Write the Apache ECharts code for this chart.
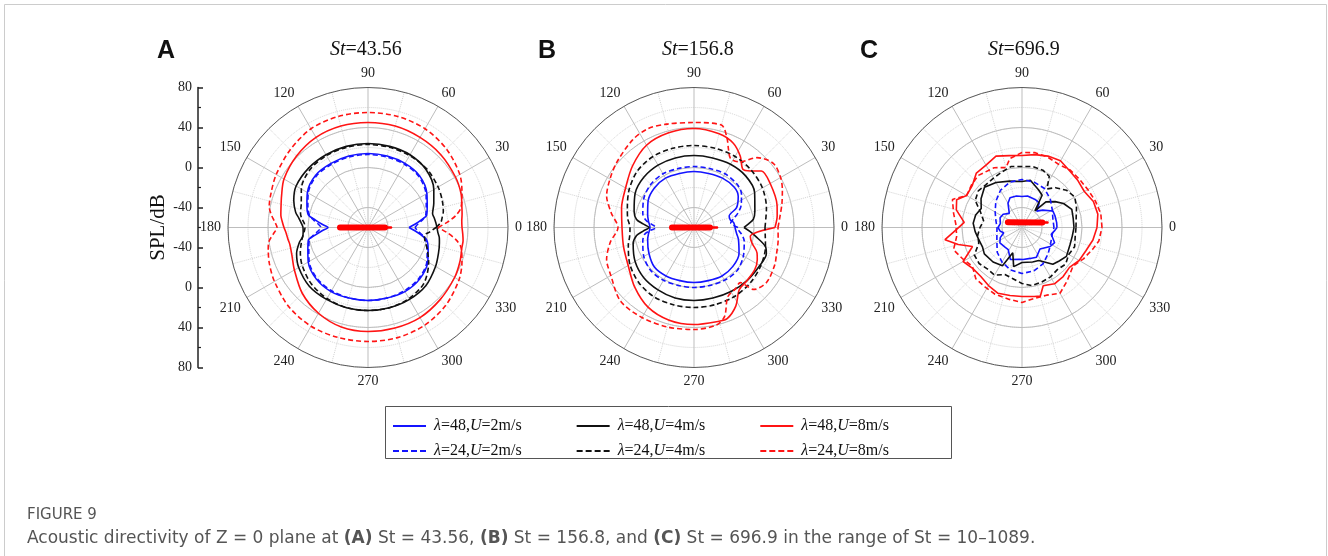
<!DOCTYPE html>
<html><head><meta charset="utf-8">
<script src="https://cdn.jsdelivr.net/npm/echarts@6/dist/echarts.min.js"></script>
<style>html,body{margin:0;padding:0;background:#fff}#c{width:1328px;height:556px}</style>
</head><body><div id="c"></div>
<script>
// ---------- DATA: [angle (deg), SPL (dB)] ----------
const SERIES_NAMES = ['λ=48,U=2m/s','λ=48,U=4m/s','λ=48,U=8m/s','λ=24,U=2m/s','λ=24,U=4m/s','λ=24,U=8m/s'];
const PANEL_LABELS = ['A','B','C'];
const PANEL_ST = ['43.56','156.8','696.9'];
const ANGLE_TICKS = [0,30,60,90,120,150,180,210,240,270,300,330];
const RADIAL_TICK_LABELS = ['80','40','0','-40','-40','0','40','80'];

// Panel A (St = 43.56)
const A_L48_U2 = [[0,-19],[4,-13],[8,-6.5],[12,0],[20,3],[30,8],[45,13],[60,14],[75,14],[90,14],[105,14],[120,14],[135,14],[150,10],[160,5],[168,1],[172,-7],[176,-14],[180,-20],[184,-14],[188,-7],[192,1],[200,4],[210,9],[225,13],[240,14],[255,13],[270,13],[285,13],[300,14],[315,13],[330,9],[340,4],[348,0],[352,-6.5],[356,-13]];
const A_L24_U2 = [[0,-13],[4,-10],[8,-5],[12,-1],[20,2],[30,7],[45,12],[60,13],[75,13],[90,13],[105,13],[120,13],[135,13],[150,9],[160,4],[168,0],[172,-5],[176,-10],[180,-13],[184,-10],[188,-5],[192,0],[200,3],[210,8],[225,12],[240,13],[255,13],[270,13],[285,13],[300,13],[315,12],[330,8],[340,3],[348,-1],[352,-5],[356,-10]];
const A_L48_U4 = [[0,9],[4,8],[8,7],[12,6],[20,10],[30,16],[45,22],[60,24],[75,24],[90,24],[105,24],[120,24],[135,24],[150,23],[160,19],[168,14],[172,10],[176,7],[180,5],[184,5],[188,6],[192,10],[200,16],[210,20],[225,23],[240,23],[255,23],[270,23],[285,23],[300,23],[315,22],[330,18],[340,15],[348,13],[352,12],[356,10]];
const A_L24_U4 = [[0,8],[4,13],[8,15],[12,17],[20,19],[30,21],[45,23],[60,23],[75,23],[90,23],[105,23],[120,23],[135,22],[150,17],[160,11],[168,9],[172,7],[176,4],[180,3],[184,4],[188,6],[192,8],[200,12],[210,16],[225,20],[240,22],[255,23],[270,23],[285,23],[300,22],[315,19],[330,10],[340,3],[348,-2],[352,-3],[356,2]];
const A_L48_U8 = [[0,34],[4,34],[8,35],[12,36],[20,39],[30,41],[45,43],[60,44],[75,45],[90,45],[105,45],[120,44],[135,41],[150,37],[160,32],[168,29],[172,28],[176,26],[180,24],[184,22],[188,21],[192,20],[200,21],[210,25],[225,33],[240,39],[255,43],[270,44],[285,44],[300,44],[315,42],[330,40],[340,38],[348,36],[352,36],[356,35]];
const A_L24_U8 = [[0,10],[4,20],[8,29],[12,35],[20,40],[30,46],[45,51],[60,54],[75,55],[90,55],[105,55],[120,54],[135,50],[150,46],[160,43],[168,41],[172,38],[176,34],[180,31],[184,35],[188,40],[192,42],[200,45],[210,48],[225,52],[240,54],[255,54],[270,54],[285,54],[300,53],[315,50],[330,45],[340,40],[348,35],[352,29],[356,20]];

// Panel B (St = 156.8)
const B_L48_U2 = [[0,-19],[7,-20],[12,-23],[18,-23],[25,-13],[35,-6],[45,-3],[60,-3],[75,-4],[90,-4],[105,-4],[120,-3],[135,-4],[150,-7],[165,-12],[172,-14],[180,-16],[188,-14],[195,-12],[210,-8],[225,-4],[240,-4],[255,-5],[270,-5],[285,-5],[300,-4],[315,-5],[330,-8],[345,-14],[352,-17]];
const B_L24_U2 = [[0,-16],[7,-23],[12,-20],[18,-14],[25,-8],[35,-2],[45,1],[60,2],[75,1],[90,1],[105,1],[120,2],[135,1],[150,-2],[165,-7],[172,-12],[176,-18],[180,-22],[184,-16],[188,-10],[195,-7],[210,-2],[225,1],[240,1],[255,0],[270,0],[285,0],[300,1],[315,1],[330,-3],[345,-8],[352,-12],[356,-15]];
const B_L48_U4 = [[0,-10],[4,-5],[8,0],[15,3],[30,10],[45,13],[60,13],[75,12],[90,12],[105,12],[120,12],[135,11],[150,8],[165,2],[172,-2],[176,-9],[180,-15],[184,-9],[188,-2],[195,3],[210,8],[225,11],[240,12],[255,13],[270,13],[285,13],[300,14],[315,15],[330,16],[340,17],[345,14],[352,2],[356,-4]];
const B_L24_U4 = [[0,11],[15,15],[30,19],[45,21],[60,22],[75,22],[90,22],[105,22],[120,22],[135,20],[150,15],[165,9],[172,7],[180,4],[188,5],[195,8],[210,14],[225,18],[240,20],[255,20],[270,20],[285,20],[300,20],[315,19],[330,17],[345,14],[352,12]];
const B_L48_U8 = [[0,21],[8,24],[15,26],[30,28],[40,28],[45,20],[50,16],[57,25],[65,33],[75,37],[90,39],[105,38],[120,35],[135,27],[150,19],[165,15],[180,12],[195,13],[210,16],[225,24],[240,32],[255,36],[270,37],[285,37],[290,37],[298,29],[306,17],[315,15],[325,14],[333,11],[338,8],[345,0],[351,-3]];
const B_L24_U8 = [[0,24],[8,27],[15,31],[23,36],[30,40],[39,42],[48,34],[55,20],[62,18],[66,25],[70,36],[75,46],[90,45],[105,47],[115,49],[125,47],[140,41],[150,37],[160,33],[170,24],[180,16],[190,25],[200,33],[210,36],[225,44],[240,44],[255,43],[270,42],[283,40],[289,34],[296,17],[304,14],[310,12],[314,26],[323,31],[335,29],[341,27],[352,25]];

// Panel C (St = 696.9)
const C_L48_U2 = [[0,-25],[8,-25],[20,-25],[28,-25],[40,-33],[48,-38],[55,-30],[65,-29],[80,-28],[90,-29],[100,-28],[112,-28],[120,-32],[132,-41],[145,-37],[156,-36],[170,-38],[180,-36],[190,-38],[196,-41],[205,-36],[215,-33],[230,-34],[238,-34],[250,-26],[265,-28],[272,-28],[285,-28],[296,-27],[310,-32],[326,-26],[335,-24],[347,-30],[355,-27]];
const C_L24_U2 = [[0,-28],[15,-28],[30,-25],[45,-20],[60,-15],[75,-13],[90,-12],[105,-13],[120,-17],[135,-23],[150,-29],[165,-33],[180,-35],[195,-34],[210,-31],[225,-25],[240,-20],[255,-16],[270,-14],[285,-15],[300,-18],[315,-23],[330,-27],[345,-29]];
const C_L48_U4 = [[0,-8],[10,-8],[20,-7],[30,-12],[38,-18],[47,-25],[52,-39],[58,-22],[66,-19],[80,-12],[90,-14],[105,-12],[120,-8],[133,-5],[145,-10],[155,-15],[165,-12],[175,-11],[185,-13],[195,-15],[206,-16],[215,-14],[230,-15],[243,-17],[250,-33],[258,-20],[270,-25],[287,-24],[297,-23],[310,-12],[318,-10],[327,-7],[340,-9],[350,-9]];
const C_L24_U4 = [[0,-6],[10,-5],[20,-2],[30,1],[40,-2],[50,-8],[57,-14],[62,-2],[70,1],[80,2],[90,1],[100,2],[110,-1],[120,-3],[130,-4],[140,-3],[150,-6],[160,-16],[170,-21],[180,-18],[190,-15],[200,-14],[210,-5],[220,-4],[230,-6],[240,-5],[250,-10],[260,-8],[270,-4],[280,-1],[290,-2],[300,-3],[310,-5],[320,-3],[330,-6],[340,-4],[350,-6]];
const C_L48_U8 = [[0,15],[10,17],[20,16],[30,12],[40,13],[50,14],[60,17],[70,16],[80,14],[90,12],[100,13],[110,16],[120,12],[130,11],[140,5],[150,4],[157,11],[165,8],[175,-2],[182,6],[189,18],[195,6],[201,-7],[210,8],[220,4],[230,4],[240,7],[250,10],[260,9],[270,9],[280,10],[285,11],[290,2],[300,5],[310,4],[320,2],[330,6],[340,8],[350,12]];
const C_L24_U8 = [[0,20],[10,20],[20,18],[30,16],[40,15],[50,15],[60,13],[70,15],[80,16],[90,15],[100,10],[105,2],[115,6],[130,8],[140,6],[150,4],[158,15],[168,10],[178,6],[188,6],[198,12],[208,7],[218,3],[228,9],[238,10],[248,12],[260,13],[270,15],[280,12],[290,12],[300,16],[310,10],[323,4],[333,9],[343,14],[350,18]];

// Vehicle hull drawn at the centre of each panel: [angle, dB]
const HULL_A = [[180,-32],[0,-43]], NOSE_A = [[0,-43],[0,-37]];
const HULL_B = [[180,-38],[0,-44]], NOSE_B = [[0,-44],[0,-37]];
const HULL_C = [[160,-45],[14,-39]], NOSE_C = [[14,-39],[11,-34]];

// ---------- STYLE / LAYOUT ----------
const PANEL_DATA = [
  [A_L48_U2, A_L48_U4, A_L48_U8, A_L24_U2, A_L24_U4, A_L24_U8],
  [B_L48_U2, B_L48_U4, B_L48_U8, B_L24_U2, B_L24_U4, B_L24_U8],
  [C_L48_U2, C_L48_U4, C_L48_U8, C_L24_U2, C_L24_U4, C_L24_U8]
];
const HULLS = [[HULL_A, NOSE_A],[HULL_B, NOSE_B],[HULL_C, NOSE_C]];
const CX = [368, 694, 1022], CY = 227.5, R = 140;
const SMOOTH = [0.3, 0.3, false];
const COLORS = ['#1414ff','#111111','#ff1414','#1414ff','#111111','#ff1414'];
const DASHED = [false,false,false,true,true,true];
const SERIF = 'Liberation Serif';
const ICON_SOLID = 'path://M0,0h33v2h-33z';
const ICON_DASH = 'path://M0,0h6v2h-6zM9,0h6v2h-6zM18,0h6v2h-6zM27,0h6v2h-6z';

const polar = [], angleAxis = [], radiusAxis = [], series = [], title = [];
for (let p = 0; p < 3; p++) {
  polar.push({center:[CX[p], CY], radius: R});
  polar.push({center:[CX[p], CY], radius: [R*20/140, R*100/140]});
  angleAxis.push({polarIndex: 2*p, type:'value', min:0, max:360, interval:30, startAngle:0, clockwise:false,
    axisLine:{show:true, lineStyle:{color:'#5a5a5a', width:1}}, axisTick:{show:false},
    axisLabel:{margin:7, fontFamily:SERIF, fontSize:14, color:'#222', formatter: v => ANGLE_TICKS.includes(v) ? String(v) : ''},
    splitLine:{show:true, lineStyle:{color:'#bdbdbd', width:1}},
    minorTick:{show:false, splitNumber:2},
    minorSplitLine:{show:true, lineStyle:{color:'#d4d4d4', type:'dotted', width:1}}, z:0});
  angleAxis.push({polarIndex: 2*p+1, type:'value', min:0, max:360, startAngle:0, clockwise:false,
    axisLine:{show:false}, axisTick:{show:false}, axisLabel:{show:false}, splitLine:{show:false}});
  radiusAxis.push({polarIndex: 2*p, type:'value', min:-60, max:80, interval:20,
    axisLine:{show:false}, axisTick:{show:false}, axisLabel:{show:false},
    splitLine:{show:true, lineStyle:{color:'#d4d4d4', type:'dotted', width:1}}, z:0});
  radiusAxis.push({polarIndex: 2*p+1, type:'value', min:-40, max:40, interval:40,
    axisLine:{show:false}, axisTick:{show:false}, axisLabel:{show:false},
    splitLine:{show:true, lineStyle:{color:'#bdbdbd', width:1}}, z:0});

  PANEL_DATA[p].forEach((arr, k) => {
    const d = arr.map(([a, v]) => [v, a]);
    d.push([arr[0][1], arr[0][0] + 360]);
    series.push({type:'line', name: SERIES_NAMES[k], coordinateSystem:'polar', polarIndex: 2*p,
      data: d, symbol:'none', showSymbol:false, smooth: SMOOTH[p], animation:false, z:3,
      lineStyle:{color: COLORS[k], width:1.6, type: DASHED[k] ? [5,3] : 'solid'},
      itemStyle:{color: COLORS[k]}});
  });
  const [hull, nose] = HULLS[p];
  series.push({type:'line', name:'hull', coordinateSystem:'polar', polarIndex:2*p, symbol:'none', animation:false, z:4,
    data: hull.map(([a, v]) => [v, a]), lineStyle:{color:'#ff0000', width:6, cap:'round'}});
  series.push({type:'line', name:'nose', coordinateSystem:'polar', polarIndex:2*p, symbol:'none', animation:false, z:4,
    data: nose.map(([a, v]) => [v, a]), lineStyle:{color:'#ff0000', width:2.5, cap:'round'}});
}

const LABEL_X = [152, 533, 855], ST_X = [325, 657, 983];
for (let p = 0; p < 3; p++) {
  title.push({text: PANEL_LABELS[p], left: LABEL_X[p], top: 34,
    textStyle:{fontFamily:'Liberation Sans', fontSize:25, fontWeight:'bold', color:'#111'}});
  title.push({text: '{i|St}{n|=' + PANEL_ST[p] + '}', left: ST_X[p], top: 35,
    textStyle:{fontFamily:SERIF, fontSize:20, fontWeight:'normal', color:'#111',
      rich:{i:{fontFamily:SERIF, fontSize:20, fontStyle:'italic', fontWeight:'normal', color:'#111'},
            n:{fontFamily:SERIF, fontSize:20, fontWeight:'normal', color:'#111'}}}});
}
title.push({text:'FIGURE 9', left:22, top:503, textStyle:{fontFamily:'DejaVu Sans', fontSize:15, fontWeight:'normal', color:'#555'}});
title.push({text:'{t|Acoustic directivity of Z = 0 plane at }{b|(A)}{t| St = 43.56, }{b|(B)}{t| St = 156.8, and }{b|(C)}{t| St = 696.9 in the range of St = 10–1089.}',
  left:22, top:525, textStyle:{fontWeight:'normal', rich:{
    t:{fontFamily:'DejaVu Sans', fontSize:17, color:'#555', fontWeight:'normal'},
    b:{fontFamily:'DejaVu Sans', fontSize:17, color:'#555', fontWeight:'bold'}}}});

const legendFmt = n => n.replace('λ', '{i|λ}').replace('U=', '{i|U}=');
const legendText = {fontFamily:SERIF, fontSize:16, color:'#111', padding:[0,0,0,3], rich:{i:{fontFamily:SERIF, fontSize:16, fontStyle:'italic', color:'#111'}}};
const legendItem = (k) => ({name: SERIES_NAMES[k], icon: DASHED[k] ? ICON_DASH : ICON_SOLID, itemStyle:{color: COLORS[k]}});
const legend = [
  {data: [0,1,2].map(legendItem), left:388, top:413, itemGap:55, itemWidth:33, itemHeight:2, formatter: legendFmt, textStyle: legendText, selectedMode:false},
  {data: [3,4,5].map(legendItem), left:388, top:438, itemGap:55, itemWidth:33, itemHeight:2, formatter: legendFmt, textStyle: legendText, selectedMode:false}
];

const option = {
  backgroundColor:'#fff',
  animation:false,
  title, legend, polar, angleAxis, radiusAxis,
  grid:[{left:198, top:CY-R, width:1, height:2*R}],
  xAxis:[{gridIndex:0, type:'value', show:false, min:0, max:1}],
  yAxis:[{gridIndex:0, type:'value', min:0, max:280, interval:40, position:'left',
    axisLine:{show:true, lineStyle:{color:'#222', width:1.5}},
    axisTick:{show:true, inside:true, length:5, lineStyle:{color:'#222', width:1.5}},
    minorTick:{show:true, splitNumber:2, length:3, lineStyle:{color:'#222', width:1.2}},
    splitLine:{show:false},
    axisLabel:{margin:6, fontFamily:SERIF, fontSize:14, color:'#222', formatter: v => RADIAL_TICK_LABELS[Math.round(v/40)]},
    name:'SPL/dB', nameLocation:'middle', nameGap:20, nameRotate:90,
    nameTextStyle:{fontFamily:SERIF, fontSize:21, color:'#111'}}],
  graphic:[
    {type:'rect', shape:{x:4.5, y:4.5, width:1322, height:600}, style:{fill:'none', stroke:'#cccccc', lineWidth:1}, silent:true},
    {type:'rect', shape:{x:385.5, y:406.5, width:566, height:52}, style:{fill:'none', stroke:'#555', lineWidth:1}, silent:true}
  ],
  series
};
const chart = echarts.init(document.getElementById('c'), null, {renderer:'canvas'});
chart.setOption(option);
</script></body></html>
